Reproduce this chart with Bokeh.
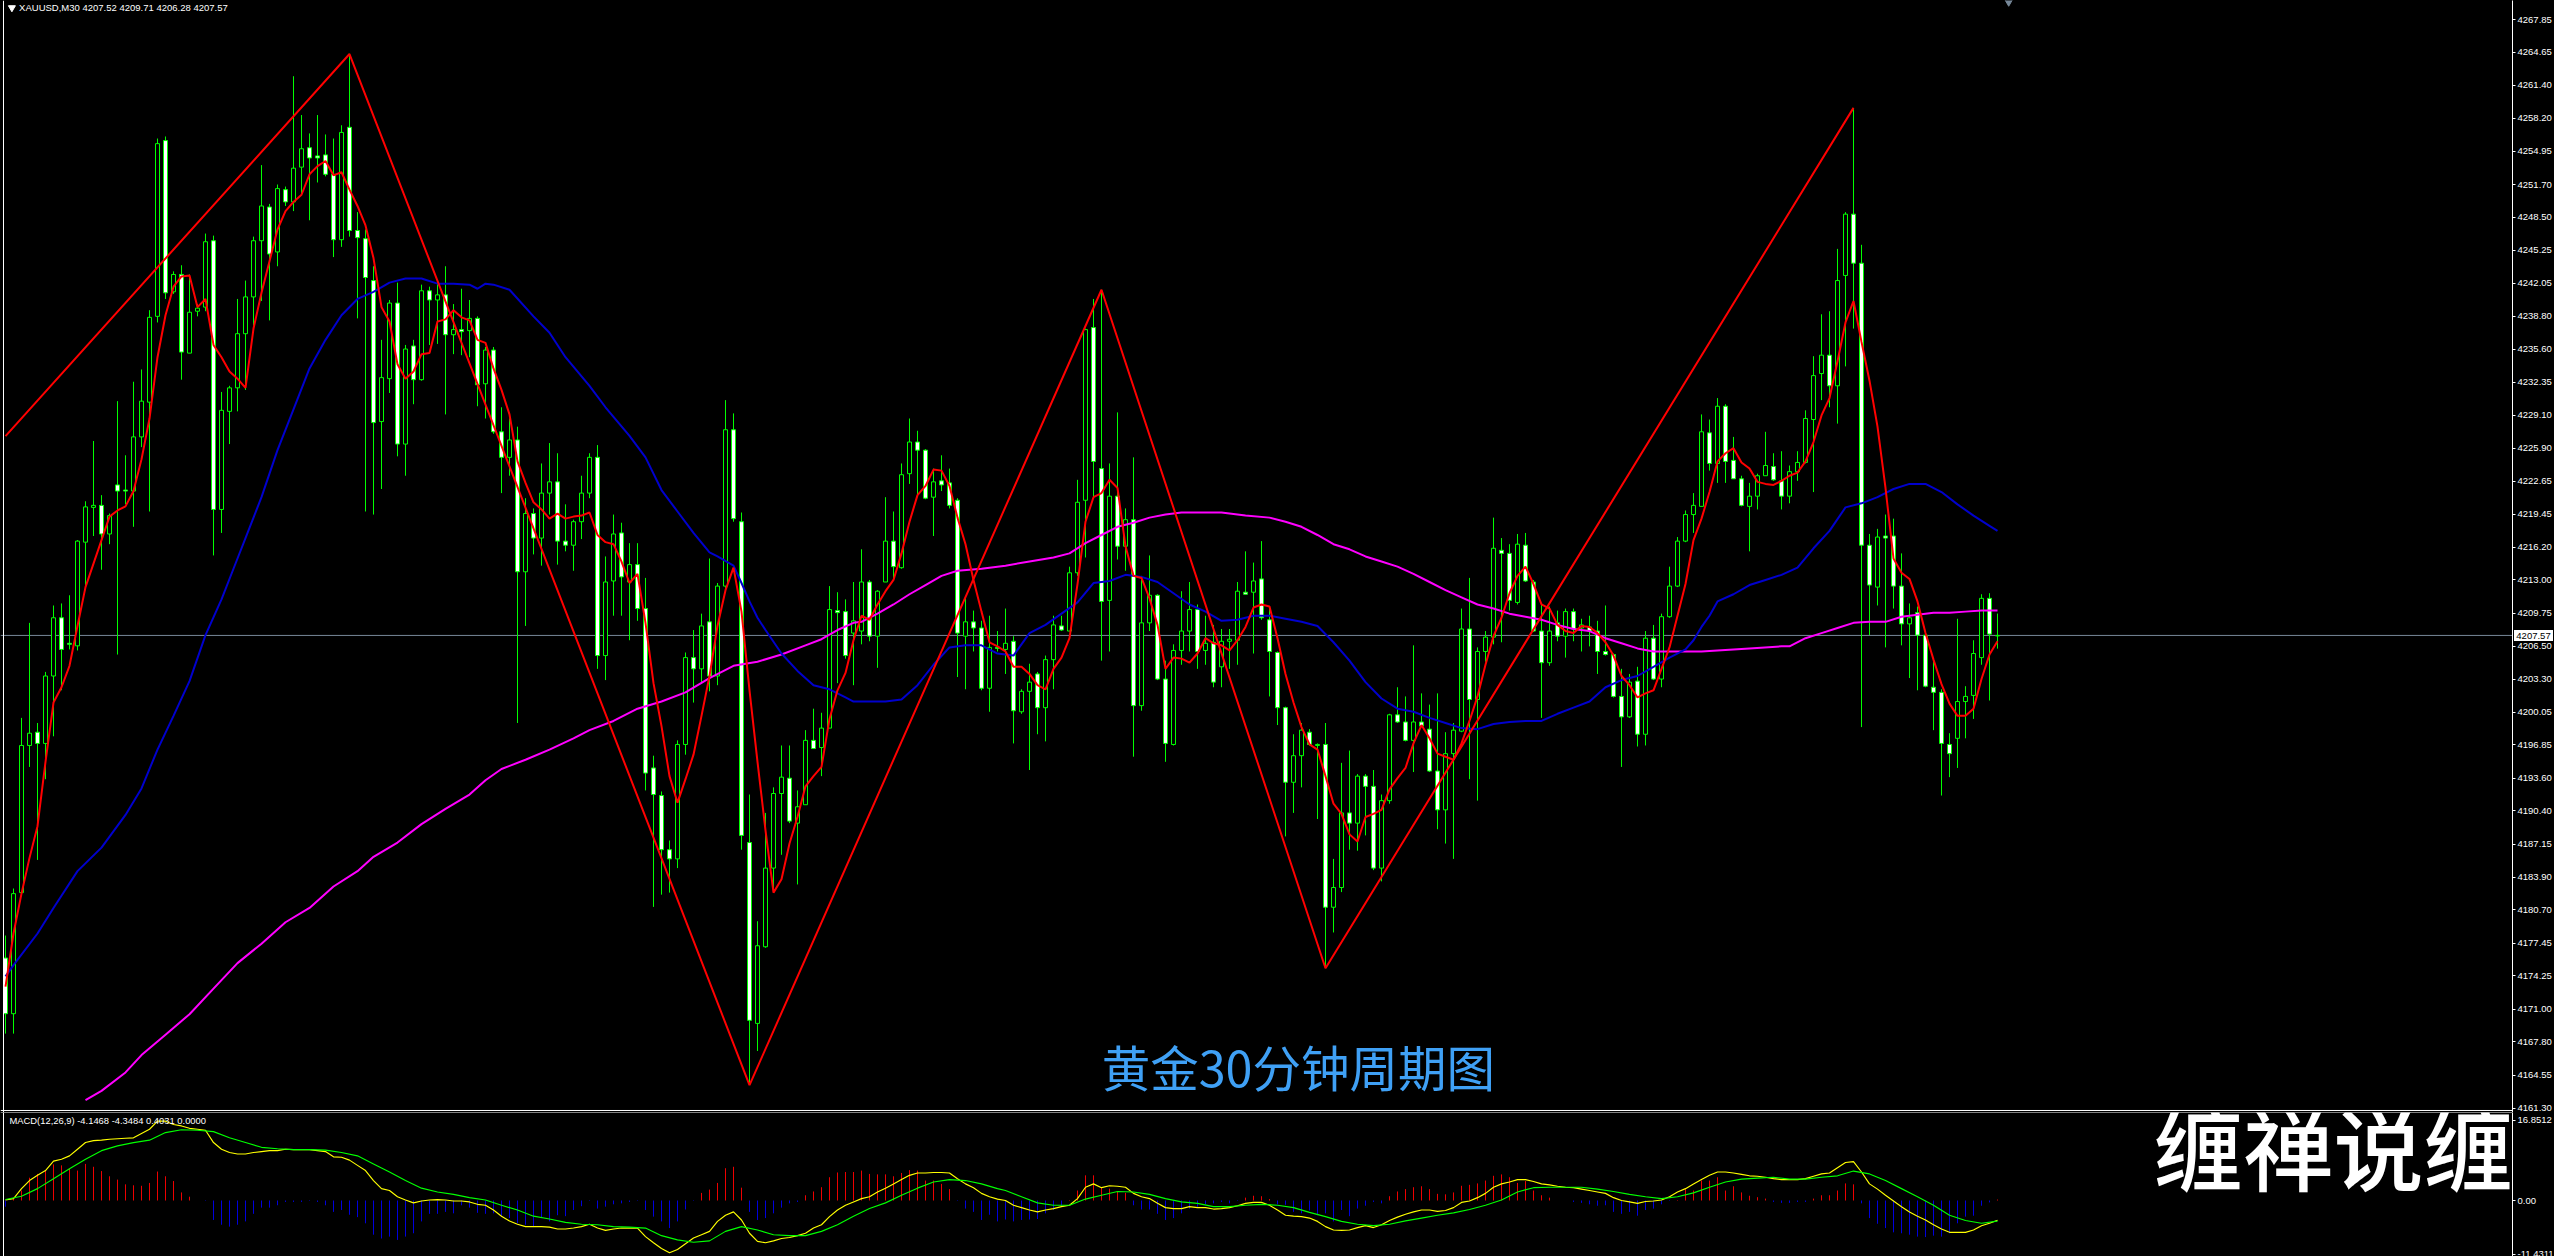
from bokeh.plotting import figure
from bokeh.layouts import column
from bokeh.models import Range1d, Span, Label, FixedTicker, ColumnDataSource
from bokeh.embed import file_html
from bokeh.resources import INLINE

price_ticks = [4267.85,4264.65,4261.40,4258.20,4254.95,4251.70,4248.50,4245.25,4242.05,4238.80,4235.60,4232.35,
4229.10,4225.90,4222.65,4219.45,4216.20,4213.00,4209.75,4206.50,4203.30,4200.05,4196.85,4193.60,4190.40,4187.15,
4183.90,4180.70,4177.45,4174.25,4171.00,4167.80,4164.55,4161.30]
macd_ticks = [16.8512, 0.0, -11.4311]
last_price = 4207.57

opens = [4176.0,4170.55,4182.4,4196.8,4198.1,4197.0,4203.6,4209.3,4206.8,4206.55,
4216.7,4220.1,4220.3,4217.5,4222.3,4221.8,4221.7,4227.0,4230.4,4238.8,
4256.0,4241.2,4242.9,4235.2,4239.3,4239.7,4246.2,4219.9,4229.5,4231.8,
4237.1,4240.7,4246.2,4249.5,4245.1,4251.2,4250.0,4253.4,4255.3,4254.5,
4254.6,4252.7,4246.3,4257.3,4247.2,4246.4,4242.3,4228.5,4232.7,4240.1,
4226.3,4235.9,4232.6,4241.3,4240.4,4240.9,4237.0,4237.5,4237.4,4238.6,
4232.2,4235.5,4227.5,4225.0,4226.7,4213.8,4219.5,4217.1,4221.5,4222.6,
4216.8,4216.4,4218.7,4221.5,4225.0,4205.6,4212.9,4217.6,4212.8,4214.5,
4210.2,4194.6,4191.9,4186.6,4185.7,4196.9,4205.4,4204.3,4208.9,4203.6,
4212.4,4227.7,4218.7,4187.3,4169.6,4177.1,4184.8,4192.1,4193.6,4189.2,
4191.0,4197.3,4196.6,4198.5,4210.0,4209.9,4207.8,4208.0,4212.8,4207.5,
4212.8,4216.8,4214.2,4223.4,4226.5,4225.7,4221.1,4222.7,4222.5,4220.8,
4207.5,4208.9,4208.3,4202.4,4206.4,4206.2,4207.0,4200.1,4202.1,4203.8,
4200.5,4205.2,4208.5,4208.0,4213.7,4220.8,4237.7,4223.9,4211.0,4221.2,
4216.3,4218.9,4200.7,4208.8,4211.5,4203.3,4196.9,4206.1,4208.0,4210.1,
4206.1,4206.9,4204.5,4207.0,4207.1,4211.8,4211.8,4213.1,4209.1,4205.9,
4200.5,4193.2,4195.8,4198.1,4196.8,4196.9,4180.97,4182.9,4190.2,4189.2,
4193.8,4192.8,4184.8,4191.4,4199.8,4199.1,4197.3,4199.1,4198.4,4194.3,
4190.5,4196.0,4198.2,4208.2,4201.3,4206.0,4207.4,4215.9,4215.6,4210.8,
4216.4,4212.8,4208.0,4204.9,4208.8,4207.5,4209.9,4208.3,4208.4,4208.0,
4206.0,4205.7,4201.6,4199.6,4203.1,4197.9,4207.3,4203.3,4209.4,4212.4,
4216.8,4219.4,4220.2,4227.4,4224.4,4230.0,4224.7,4222.9,4220.2,4221.2,
4223.2,4224.1,4222.7,4221.2,4223.6,4224.5,4228.7,4233.2,4235.0,4232.0,
4242.8,4248.8,4244.0,4216.4,4212.3,4217.3,4217.3,4212.4,4208.7,4209.8,
4207.6,4202.5,4202.0,4196.9,4197.5,4201.1,4201.7,4205.4,4211.2,4207.52]

highs = [4178.2,4182.8,4199.5,4208.8,4199.0,4204.0,4210.5,4210.7,4211.5,4216.9,
4220.7,4226.6,4221.3,4219.5,4230.5,4225.2,4232.4,4233.6,4239.4,4256.2,
4256.4,4243.2,4243.8,4242.9,4240.0,4246.9,4246.7,4231.4,4232.0,4240.5,
4242.3,4246.6,4253.6,4249.8,4251.7,4251.5,4262.3,4258.5,4256.7,4258.5,
4256.6,4256.2,4257.5,4264.5,4249.0,4247.3,4243.7,4236.5,4240.4,4242.1,
4236.0,4236.5,4241.9,4241.7,4242.1,4243.7,4240.0,4241.5,4240.4,4238.8,
4235.8,4235.8,4229.9,4228.8,4228.0,4221.0,4220.0,4224.4,4226.4,4225.4,
4220.4,4218.9,4223.2,4225.4,4226.2,4215.3,4219.4,4218.6,4216.6,4216.6,
4213.2,4195.8,4192.3,4187.5,4197.3,4205.9,4208.1,4209.7,4215.1,4212.7,
4230.6,4229.3,4219.6,4192.0,4179.6,4190.2,4192.7,4196.8,4196.8,4192.4,
4198.3,4200.4,4200.0,4212.4,4211.8,4211.1,4212.8,4216.0,4213.0,4212.0,
4221.1,4219.7,4224.4,4228.8,4227.6,4225.8,4223.9,4225.2,4223.9,4221.0,
4211.2,4210.0,4209.0,4209.5,4208.0,4210.2,4207.5,4202.3,4204.8,4204.0,
4205.6,4209.5,4209.5,4214.3,4222.8,4237.6,4240.5,4241.4,4224.4,4229.4,
4220.0,4225.0,4213.4,4215.4,4211.6,4205.1,4206.7,4211.9,4212.8,4210.6,
4209.5,4208.6,4208.2,4208.2,4212.8,4215.8,4214.7,4216.8,4210.2,4206.0,
4200.6,4197.9,4199.0,4198.4,4197.0,4199.0,4185.7,4195.1,4196.3,4194.0,
4194.0,4194.4,4192.0,4199.9,4202.5,4201.6,4206.6,4201.9,4200.8,4201.9,
4198.1,4199.0,4210.2,4213.2,4206.4,4208.0,4219.1,4217.1,4216.5,4217.5,
4217.6,4213.0,4210.6,4210.4,4210.0,4210.2,4210.2,4209.2,4209.5,4209.0,
4210.5,4205.8,4204.3,4203.8,4204.5,4208.0,4208.6,4209.7,4214.3,4217.2,
4219.8,4221.5,4229.2,4228.7,4230.8,4230.2,4227.0,4223.2,4222.5,4223.4,
4227.5,4225.4,4225.6,4224.2,4225.6,4229.6,4234.9,4239.0,4239.3,4245.4,
4249.0,4259.2,4245.8,4217.5,4218.0,4219.4,4219.0,4215.6,4210.7,4210.4,
4207.7,4205.2,4202.3,4198.0,4209.2,4202.6,4207.1,4211.6,4211.7,4209.71]

lows = [4168.6,4168.6,4182.4,4194.7,4185.6,4193.5,4197.7,4202.2,4206.2,4206.1,
4212.0,4217.3,4214.0,4216.5,4205.7,4220.4,4218.2,4226.0,4219.7,4238.2,
4240.5,4241.0,4232.6,4235.2,4238.8,4239.3,4215.4,4217.6,4226.3,4229.5,
4231.6,4237.9,4240.3,4238.4,4243.7,4249.6,4249.1,4250.7,4248.2,4251.9,
4252.5,4244.6,4245.6,4246.6,4238.6,4219.7,4219.4,4221.9,4231.3,4225.1,
4223.2,4230.2,4232.5,4236.0,4236.1,4229.2,4235.1,4235.0,4234.8,4230.0,
4228.8,4227.3,4221.5,4223.2,4199.0,4208.5,4215.5,4214.4,4219.4,4214.5,
4215.8,4213.9,4217.0,4221.0,4204.3,4203.2,4209.5,4209.5,4207.1,4209.0,
4192.4,4181.0,4182.2,4182.4,4184.8,4195.9,4201.0,4202.9,4202.1,4202.7,
4212.0,4218.7,4186.6,4163.6,4166.9,4177.0,4182.4,4186.1,4189.2,4183.2,
4191.0,4196.5,4193.8,4198.5,4202.9,4205.3,4202.7,4206.7,4207.0,4204.4,
4212.8,4213.0,4214.1,4222.4,4221.3,4220.9,4217.3,4221.7,4220.0,4203.5,
4202.3,4206.0,4202.2,4200.1,4206.0,4203.8,4197.0,4199.9,4194.4,4197.9,
4197.2,4202.3,4208.0,4208.0,4213.4,4215.2,4221.1,4205.1,4206.0,4215.0,
4213.9,4195.7,4200.2,4208.0,4203.2,4195.2,4196.8,4204.7,4206.0,4204.3,
4204.7,4202.5,4202.5,4204.3,4204.7,4211.6,4205.8,4209.1,4201.6,4198.8,
4187.9,4190.2,4192.7,4196.8,4189.6,4175.0,4178.5,4182.45,4186.6,4186.5,
4188.0,4184.6,4183.5,4191.1,4199.0,4197.2,4194.2,4198.6,4194.2,4188.6,
4187.2,4185.7,4198.1,4193.5,4191.4,4205.0,4206.7,4206.9,4210.0,4210.6,
4212.8,4207.9,4199.5,4204.6,4207.0,4205.4,4207.0,4206.0,4206.5,4203.8,
4205.6,4201.5,4194.7,4199.5,4196.7,4196.8,4203.2,4202.5,4209.3,4212.3,
4216.7,4217.6,4220.2,4223.7,4222.5,4222.5,4222.9,4220.2,4215.8,4219.9,
4223.2,4222.7,4219.9,4220.5,4222.7,4224.4,4221.6,4230.6,4229.9,4228.3,
4233.9,4237.6,4198.6,4207.6,4210.5,4206.4,4210.2,4206.6,4203.4,4202.2,
4202.5,4198.3,4191.9,4193.7,4194.6,4197.5,4199.4,4204.7,4201.2,4206.28]

closes = [4170.55,4182.3,4196.8,4198.0,4197.0,4203.6,4209.3,4206.2,4206.7,4216.8,
4220.15,4220.3,4217.5,4219.3,4221.7,4221.7,4227.0,4230.5,4238.7,4255.7,
4241.1,4242.9,4235.3,4239.2,4239.6,4246.1,4219.9,4229.6,4231.8,4237.1,
4240.7,4246.2,4249.6,4244.9,4251.3,4250.0,4253.3,4255.2,4254.3,4254.3,
4252.7,4246.3,4256.8,4247.2,4246.5,4242.6,4228.4,4232.8,4240.1,4226.3,
4235.6,4232.6,4241.3,4240.4,4240.9,4237.0,4237.5,4237.3,4238.6,4232.1,
4235.5,4227.5,4225.0,4226.7,4213.8,4219.5,4217.1,4221.5,4222.6,4216.8,
4216.4,4218.7,4221.5,4225.0,4205.6,4212.8,4217.5,4213.3,4214.5,4210.2,
4194.1,4192.0,4186.6,4185.7,4196.9,4205.4,4204.3,4208.5,4203.6,4212.4,
4227.7,4219.0,4188.0,4169.9,4177.2,4184.8,4192.1,4193.7,4189.4,4190.8,
4197.3,4196.5,4198.5,4210.1,4209.8,4205.6,4209.0,4212.8,4207.5,4211.9,
4216.8,4214.3,4223.3,4226.5,4225.7,4221.0,4222.6,4222.3,4220.3,4207.8,
4208.9,4208.3,4202.4,4206.4,4206.3,4206.8,4200.2,4202.1,4203.0,4200.5,
4205.2,4208.6,4208.1,4213.7,4220.6,4237.5,4224.6,4210.9,4221.2,4216.3,
4218.9,4200.7,4208.8,4211.5,4203.3,4197.0,4206.1,4208.0,4210.1,4206.0,
4206.8,4203.0,4207.0,4207.2,4211.9,4211.6,4212.9,4209.3,4206.0,4200.5,
4193.2,4195.8,4198.3,4196.9,4196.9,4180.97,4182.9,4190.2,4189.2,4193.8,
4192.8,4184.8,4191.4,4199.8,4199.1,4197.3,4199.1,4198.7,4194.3,4190.5,
4196.0,4198.3,4208.2,4201.3,4206.0,4207.4,4216.1,4215.6,4211.0,4216.5,
4212.9,4208.0,4204.9,4208.0,4207.5,4209.9,4208.2,4208.6,4208.0,4206.0,
4205.7,4201.6,4199.6,4203.0,4197.9,4207.3,4203.3,4209.4,4212.4,4216.8,
4219.4,4220.3,4227.5,4224.4,4230.0,4224.6,4222.9,4220.3,4221.2,4223.2,
4224.2,4222.8,4221.2,4223.6,4224.5,4228.8,4233.0,4235.0,4232.0,4242.3,
4248.8,4244.0,4216.4,4212.5,4217.2,4217.1,4212.4,4208.7,4209.3,4207.6,
4202.6,4202.0,4197.0,4196.0,4201.1,4201.6,4205.8,4211.2,4207.7,4207.57]

ma_fast = [4173.2,4178.4,4182.3,4185.8,4188.9,4195.2,4201.0,4202.5,4204.6,4208.5,
4212.3,4214.6,4216.9,4219.2,4219.8,4220.2,4221.7,4224.8,4228.8,4234.8,
4238.9,4241.7,4242.7,4242.8,4239.7,4240.5,4236.0,4234.8,4233.4,4232.7,
4231.8,4237.6,4241.1,4244.2,4247.3,4249.1,4250.0,4250.7,4252.7,4253.5,
4254.0,4252.6,4252.9,4251.2,4249.6,4247.7,4244.5,4239.7,4238.3,4234.1,
4232.7,4233.4,4235.1,4235.2,4238.3,4238.5,4239.4,4238.7,4238.4,4236.5,
4236.2,4233.7,4231.6,4229.2,4224.6,4222.5,4220.6,4219.9,4219.0,4219.5,
4219.0,4219.2,4219.3,4219.6,4217.4,4216.7,4216.5,4214.8,4212.7,4213.6,
4208.8,4202.9,4198.7,4193.8,4191.2,4193.5,4195.9,4199.7,4203.6,4208.5,
4212.0,4214.2,4209.9,4202.2,4195.2,4188.5,4182.4,4183.7,4187.2,4189.8,
4192.8,4193.8,4194.7,4199.4,4202.2,4203.9,4207.1,4209.5,4209.1,4210.6,
4211.9,4213.0,4215.6,4218.7,4221.3,4222.2,4223.8,4223.7,4222.2,4219.1,
4216.5,4213.0,4209.9,4206.9,4206.5,4206.0,4204.5,4204.5,4203.8,4202.7,
4202.3,4204.3,4205.4,4207.3,4212.6,4218.7,4221.1,4221.5,4222.8,4222.0,
4216.3,4213.4,4213.2,4211.2,4208.6,4204.3,4205.4,4205.3,4204.9,4205.8,
4207.3,4206.8,4206.6,4206.1,4207.1,4208.4,4210.3,4210.6,4210.4,4207.3,
4203.8,4201.0,4198.6,4196.9,4196.4,4193.8,4191.1,4190.1,4188.1,4187.4,
4189.8,4190.1,4190.5,4192.5,4193.6,4194.6,4197.0,4198.8,4197.5,4196.0,
4195.7,4195.4,4197.0,4199.2,4201.6,4204.7,4207.5,4209.3,4211.7,4213.4,
4214.3,4212.6,4210.6,4210.2,4208.6,4208.0,4207.8,4208.5,4208.4,4207.8,
4206.9,4205.6,4203.6,4202.7,4201.5,4201.9,4202.2,4204.3,4206.4,4209.5,
4212.6,4216.9,4219.0,4221.6,4224.6,4225.4,4225.9,4224.5,4223.9,4222.6,
4222.4,4222.3,4222.7,4223.2,4223.5,4224.6,4226.5,4229.1,4230.8,4234.4,
4238.2,4240.3,4236.3,4232.5,4228.0,4222.0,4215.1,4213.7,4213.1,4210.9,
4207.8,4205.2,4202.8,4200.9,4199.7,4199.7,4200.4,4203.3,4205.7,4207.0]

ma_mid_bars = [0,1,4,6,9,12,15,17,19,21,23,25,27,29,30,32,34,36,38,40,42,44,46,48,50,52,54,56,58,59,60,61,63,66,68,70,73,75,78,80,82,84,86,88,89,91,92,93,94,95,97,99,101,103,105,106,110,112,114,116,118,120,122,124,126,128,130,132,134,136,138,140,142,144,146,148,150,152,154,156,158,160,162,164,166,168,170,172,174,176,178,180,182,184,186,188,190,192,194,196,198,200,202,204,206,208,210,211,212,213,214,216,218,220,222,224,226,228,230,232,234,236,238,240,242,244,246,248,249]
ma_mid = [4174.2,4175.3,4178.4,4180.9,4184.5,4186.8,4190.0,4192.6,4196.4,4199.7,4203.1,4207.6,4211.1,4215.1,4217.1,4221.1,4225.7,4229.7,4233.7,4236.5,4238.9,4240.5,4241.2,4242.1,4242.5,4242.5,4242.0,4242.0,4241.9,4241.5,4242.0,4241.9,4241.4,4238.8,4237.2,4234.8,4232.0,4229.9,4227.1,4225.0,4221.8,4219.7,4217.6,4215.7,4215.3,4214.4,4212.7,4210.9,4209.3,4208.1,4205.8,4204.1,4202.7,4202.3,4201.5,4201.1,4201.1,4201.3,4202.7,4204.7,4206.4,4206.6,4206.6,4205.8,4205.6,4207.8,4208.6,4209.7,4210.8,4212.7,4212.9,4213.5,4213.3,4212.8,4211.7,4210.6,4209.9,4209.0,4209.1,4209.5,4209.5,4209.2,4208.9,4208.5,4206.9,4205.1,4203.0,4201.4,4200.4,4200.1,4199.5,4199.0,4198.5,4198.4,4198.9,4199.1,4199.2,4199.2,4199.9,4200.5,4201.1,4202.5,4203.2,4203.6,4204.5,4205.4,4206.2,4207.1,4208.4,4209.5,4210.9,4211.6,4212.5,4213.0,4213.5,4214.2,4216.1,4217.8,4220.1,4220.5,4221.1,4221.9,4222.4,4222.4,4221.6,4220.4,4219.3,4218.3,4217.8]

ma_slow_bars = [10,12,15,17,20,23,26,29,32,35,38,41,44,46,49,52,55,58,60,62,65,68,71,73,76,79,82,85,88,91,94,97,100,102,104,106,107,109,111,113,115,117,119,122,125,128,131,133,135,137,139,141,143,145,147,149,152,155,158,160,162,164,166,168,170,172,174,176,178,180,182,184,186,188,190,192,194,196,198,200,202,204,206,210,212,214,218,222,223,225,227,229,231,233,235,237,239,241,243,245,247,249]
ma_slow = [4162.1,4163.0,4164.8,4166.5,4168.5,4170.5,4173.0,4175.5,4177.4,4179.5,4180.9,4183.0,4184.5,4185.9,4187.3,4189.1,4190.6,4192.0,4193.4,4194.5,4195.4,4196.4,4197.5,4198.3,4199.2,4200.4,4201.1,4202.0,4203.4,4204.6,4205.0,4205.7,4206.6,4207.2,4208.1,4208.8,4208.9,4209.7,4210.6,4211.6,4212.5,4213.4,4213.9,4214.1,4214.4,4214.8,4215.2,4215.6,4216.6,4217.4,4218.2,4218.6,4219.1,4219.4,4219.6,4219.6,4219.6,4219.3,4219.1,4218.7,4218.2,4217.4,4216.5,4216.0,4215.3,4214.8,4214.3,4213.6,4212.8,4212.0,4211.3,4210.6,4210.2,4209.7,4209.4,4209.1,4208.6,4208.2,4208.0,4207.3,4206.8,4206.3,4206.0,4206.0,4206.0,4206.1,4206.3,4206.5,4206.5,4207.3,4207.8,4208.3,4208.8,4208.9,4208.9,4209.4,4209.6,4209.8,4209.8,4209.9,4210.0,4210.0]

zigzag_bars = [0,43,93,137,165,231]
zigzag_vals = [4227.07,4264.47,4163.56,4241.4,4175.0,4259.2]

macd_hist = [-1.3,.4,2.1,4.8,5.6,6.3,7.6,7.4,6.7,6.3,7.7,7.1,6.2,5.1,4.4,3.4,3.2,3.1,3.7,6.1,
5.1,4.1,1.7,.8,0,-.1,-4.1,-5.1,-5.5,-5.1,-4.4,-2.8,-1.5,-1.5,-1.0,-.3,-.3,-.3,-.1,-.3,
-1.0,-2.4,-2.0,-3.0,-3.5,-4.8,-7.2,-8.0,-7.6,-8.3,-7.6,-6.9,-4.4,-2.8,-2.8,-2.4,-2.7,-1.0,-1.5,-2.6,
-2.8,-2.7,-3.4,-3.7,-4.8,-5.1,-5.5,-3.7,-4.4,-3.1,-3.3,-2.0,-1.2,-.1,-1.7,-1.3,-.8,-.6,-.3,-.1,
-2.0,-3.4,-4.4,-5.8,-4.4,-1.9,-.1,1.6,2.3,3.7,6.8,7.1,2.7,-2.4,-4.1,-3.7,-2.7,-1.5,-.6,-.3,
1.1,1.9,2.8,4.9,5.9,6.0,6.0,6.3,5.6,5.5,5.5,5.1,5.8,6.4,6.3,4.2,4.2,3.5,2.4,-.1,
-1.7,-2.4,-4.1,-3.0,-4.4,-4.0,-4.4,-4.1,-4.0,-3.9,-2.7,-2.0,-1.2,.1,2.1,5.3,5.3,2.8,2.5,1.8,
1.6,-1.0,-1.9,-1.9,-2.8,-4.1,-3.7,-2.7,-1.7,-1.3,-.8,-.6,-.3,-.6,-.1,.6,1.0,.9,.3,-.8,
-.9,-2.4,-2.7,-2.1,-3.1,-2.7,-4.4,-2.0,-3.3,-1.7,-1.1,-.3,-.6,.9,1.9,2.4,2.8,3.0,2.4,1.4,
1.3,1.7,3.1,3.3,3.6,4.2,5.2,5.5,4.9,3.7,4.1,2.1,1.1,.6,0,0,-.3,-.5,-.8,-1.1,
-1.0,-2.4,-2.8,-2.4,-3.2,-2.0,-1.7,-.8,-.1,.1,2.4,2.1,4.2,4.2,4.9,2.1,3.0,1.7,1.0,.7,
.4,-.3,-.5,-.5,-.3,-.3,.4,1.1,1.1,2.1,3.6,3.4,-.6,-3.7,-4.9,-5.8,-6.7,-6.9,-7.2,-7.6,
-7.7,-7.4,-7.6,-6.9,-4.8,-3.4,-3.2,-1.1,-.4,.2]

macd_main = [.1,.4,2.5,4.2,5.3,6.3,8.3,8.7,9.4,10.8,12.2,12.6,12.7,12.9,13.0,13.1,13.2,14.1,15.0,16.7,
16.7,16.0,15.7,15.2,15.0,14.8,12.2,10.8,10.1,9.8,9.8,10.1,10.3,10.5,10.5,10.8,10.7,10.7,10.7,10.5,
10.3,9.2,9.1,8.5,7.4,6.3,4.2,2.5,2.1,.8,.1,-.5,-.1,.1,.2,.1,-.1,-.1,-.3,-.8,
-1.0,-2.0,-3.3,-4.3,-5.0,-5.5,-5.5,-5.5,-5.6,-6.0,-6.0,-5.8,-5.5,-5.0,-5.8,-6.3,-6.0,-5.8,-5.8,-5.8,
-7.6,-8.9,-10.1,-11.0,-10.3,-9.1,-7.9,-7.2,-6.5,-4.4,-3.1,-2.4,-4.1,-6.9,-8.6,-8.9,-8.5,-8.0,-7.8,-7.4,
-6.9,-5.8,-5.1,-3.4,-2.0,-1.0,-.3,.4,.8,1.8,2.6,3.5,4.4,5.3,5.8,5.8,5.9,5.9,5.8,4.6,
3.5,2.7,1.5,.8,.3,0,-1.0,-1.5,-2.0,-2.4,-2.0,-1.7,-1.3,-1.0,.4,2.8,3.5,2.7,3.1,3.0,
2.8,1.5,.8,.4,-.6,-1.5,-1.7,-1.7,-1.3,-1.5,-1.5,-1.8,-1.7,-1.5,-1.1,-.6,-.4,-.4,-1.0,-2.0,
-3.1,-3.3,-3.4,-3.7,-4.4,-5.5,-6.2,-6.3,-6.2,-5.7,-5.3,-5.7,-5.1,-4.2,-3.5,-2.9,-2.4,-2.0,-2.0,-2.3,
-2.1,-1.5,-.4,-.1,.6,1.5,2.8,3.5,3.9,4.4,4.4,4.0,3.5,3.3,3.0,2.8,2.7,2.4,2.1,1.8,
1.5,.6,0,-.3,-.6,-.2,-.1,.1,.8,1.8,2.5,3.5,4.4,5.3,6.0,6.0,5.8,5.5,5.2,5.1,
4.9,4.6,4.4,4.4,4.4,4.6,5.1,5.6,5.8,6.9,8.0,8.2,6.0,3.5,2.4,1.1,-.1,-1.3,-2.4,-3.3,
-4.1,-5.1,-6.0,-6.7,-6.7,-6.7,-6.2,-5.3,-4.8,-4.15]

signal_bars = [0,2,4,6,8,10,12,14,16,18,20,22,24,26,28,30,32,34,36,38,40,42,44,46,48,50,52,54,56,58,60,62,64,66,68,70,72,74,76,78,80,82,84,86,88,90,92,94,96,98,100,102,104,106,108,110,112,114,116,118,120,122,124,125,127,129,131,133,135,137,139,141,143,145,147,149,151,153,155,157,159,161,163,165,167,169,171,173,175,177,179,181,183,185,187,189,191,193,195,197,199,201,203,205,207,209,211,213,215,217,219,221,223,225,227,229,231,233,235,237,239,241,243,245,247,249]
signal_vals = [.2,.9,2.5,4.6,6.7,8.7,10.5,11.5,12.2,12.7,14.3,14.9,14.8,14.5,13.2,12.2,11.2,10.9,10.7,10.7,10.6,10.1,9.4,7.7,6.0,4.2,2.6,1.8,1.3,.6,.1,-1.0,-2.0,-3.3,-3.9,-4.6,-5.0,-5.1,-5.5,-5.6,-5.8,-7.4,-8.3,-8.8,-8.5,-6.5,-5.5,-6.2,-7.2,-7.4,-7.4,-6.5,-5.1,-3.3,-1.7,-.5,1.1,2.6,3.9,4.4,4.2,3.5,2.5,2.1,.8,-.5,-1.0,-1.0,.3,1.1,1.9,1.8,1.3,.4,-.3,-.6,-1.3,-1.3,-1.0,-.8,-1.0,-1.5,-2.5,-3.4,-4.4,-5.0,-5.3,-5.0,-4.3,-3.7,-3.1,-2.6,-1.9,-1.0,.1,1.8,2.7,2.8,2.8,2.8,2.4,1.9,1.3,.8,.4,.8,1.6,2.8,3.9,4.5,4.7,4.9,4.5,4.5,4.9,5.2,6.2,5.6,4.2,2.5,.8,-1.0,-3.1,-4.2,-4.8,-4.35]

header_text = "XAUUSD,M30  4207.52 4209.71 4206.28 4207.57"
macd_text = "MACD(12,26,9) -4.1468 -4.3484 0.4031 0.0000"
caption_text = "黄金30分钟周期图"
brand_text = "缠禅说缠"

BG = "#000000"
UI = "Liberation Sans"
UI_SIZE = "9.5px"
bars = list(range(len(opens)))
x_start, x_end = -0.625, 313.375
x_range = Range1d(x_start, x_end)

def style(p):
    p.background_fill_color = BG
    p.border_fill_color = BG
    p.outline_line_color = None
    p.xgrid.visible = False
    p.ygrid.visible = False
    ax = p.yaxis[0]
    ax.axis_line_color = "#ffffff"
    ax.major_tick_line_color = "#ffffff"
    ax.minor_tick_line_color = None
    ax.major_tick_in = 0
    ax.major_tick_out = 3
    ax.major_label_standoff = 2
    ax.major_label_text_color = "#ffffff"
    ax.major_label_text_font = UI
    ax.major_label_text_font_size = UI_SIZE

p1 = figure(width=2554, height=1112, frame_width=2512, frame_height=1112, x_range=x_range,
            y_range=Range1d(4160.88, 4269.71), output_backend="svg", toolbar_location=None,
            x_axis_location=None, y_axis_location="right", min_border_left=0, min_border_right=42,
            min_border_top=0, min_border_bottom=0, tools="")
style(p1)
p1.yaxis[0].ticker = FixedTicker(ticks=price_ticks)
p1.yaxis[0].major_label_overrides = {t: f"{t:.2f}" for t in price_ticks}

p1.add_layout(Span(location=-0.25, dimension="height", line_color="#ffffff", line_width=1))
p1.segment([x_start], [4161.076], [x_end], [4161.076], line_color="#ffffff", line_width=1)
p1.segment([x_start], [last_price], [x_end], [last_price], line_color="#778899", line_width=1)

up = [c >= o for o, c in zip(opens, closes)]
src = ColumnDataSource(dict(
    x=bars, high=highs, low=lows,
    top=[max(o, c) for o, c in zip(opens, closes)],
    bottom=[min(o, c) for o, c in zip(opens, closes)],
    fill=[BG if u else "#ffffff" for u in up]))
p1.segment("x", "low", "x", "high", source=src, line_color="#00ff00", line_width=1)
p1.vbar("x", width=0.5, top="top", bottom="bottom", source=src, fill_color="fill",
        line_color="#00ff00", line_width=1)

p1.line(ma_slow_bars, ma_slow, line_color="#ff00ff", line_width=2)
p1.line(ma_mid_bars, ma_mid, line_color="#0000cd", line_width=2)
p1.line(bars, ma_fast, line_color="#ff0000", line_width=2)
p1.line(zigzag_bars, zigzag_vals, line_color="#ff0000", line_width=2)

p1.scatter([250.4], [4269.71], marker="inverted_triangle", size=10, color="#778899")
p1.scatter([0.8], [4269.0], marker="inverted_triangle", size=7, color="#ffffff")
p1.add_layout(Label(x=1.7, y=4269.0, text=header_text, text_color="#ffffff", text_font=UI,
                    text_font_size="9.5px", text_baseline="middle"))
p1.add_layout(Label(x=161.6, y=4165.4, text=caption_text, text_color="#3fa0f5",
                    text_font="Noto Sans CJK SC", text_font_size="48.5px", text_baseline="middle",
                    text_align="center"))

p2 = figure(width=2554, height=144, frame_width=2512, frame_height=144, x_range=x_range,
            y_range=Range1d(-11.79, 18.53), output_backend="svg", toolbar_location=None,
            x_axis_location=None, y_axis_location="right", min_border_left=0, min_border_right=42,
            min_border_top=0, min_border_bottom=0, tools="")
style(p2)
p2.yaxis[0].ticker = FixedTicker(ticks=macd_ticks)
p2.yaxis[0].major_label_overrides = {16.8512: "16.8512", 0.0: "0.00", -11.4311: "-11.4311"}

p2.add_layout(Span(location=-0.25, dimension="height", line_color="#ffffff", line_width=1))
p2.segment([x_start], [18.53], [x_end], [18.53], line_color="#ffffff", line_width=1)

hist_src = ColumnDataSource(dict(x=bars, zero=[0] * len(macd_hist), top=macd_hist,
                                 color=["#ee0000" if v > 0 else "#0000dd" for v in macd_hist]))
p2.segment("x", "zero", "x", "top", source=hist_src, line_color="color", line_width=1)
p2.line(bars, macd_main, line_color="#ffff00", line_width=1.15)
p2.line(signal_bars, signal_vals, line_color="#00ff00", line_width=1.15)

p2.add_layout(Label(x=0.5, y=16.9, text=macd_text, text_color="#ffffff", text_font=UI,
                    text_font_size="9.4px", text_baseline="middle"))
p2.add_layout(Label(x=291.0, y=11.6, text=brand_text, text_color="#ffffff",
                    text_font="Noto Sans CJK SC Medium", text_font_size="90px",
                    text_baseline="middle", text_align="center"))

page = column(p1, p2, spacing=0)
template = """{% block preamble %}<style>html,body{margin:0;padding:0;background:#000;overflow:hidden}
#last-price{position:absolute;left:2514px;top:630px;width:39px;height:11px;line-height:11px;background:#fff;color:#000;
font-family:'Liberation Sans';font-size:9.5px;text-align:center}</style>{% endblock %}
{% block inner_body %}{{ super() }}<div id="last-price">""" + f"{last_price:.2f}" + """</div>{% endblock %}"""
open("out.html", "w").write(file_html(page, INLINE, title="XAUUSD,M30", template=template))
